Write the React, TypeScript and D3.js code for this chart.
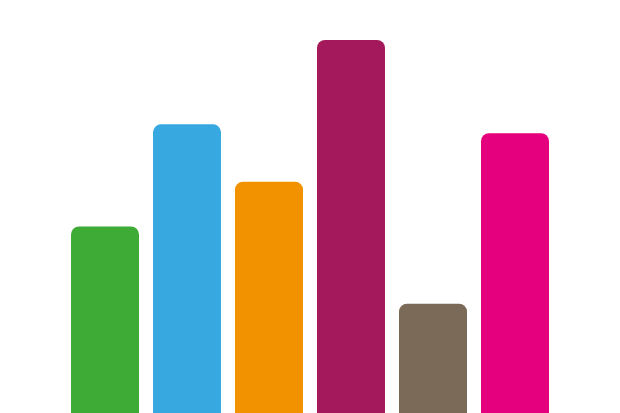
import { useRef, useEffect } from 'react';
import { select, scaleBand, scaleLinear } from 'd3';

const categories = ['A', 'B', 'C', 'D', 'E', 'F'];
const values = [50, 77.4, 62, 100, 29.3, 75];
const colors = ['#3dab35', '#38a9e0', '#f39200', '#a3195b', '#7a6a57', '#e5007d'];

export default function App() {
  const svgRef = useRef<SVGSVGElement>(null);

  useEffect(() => {
    if (!svgRef.current) return;
    document.body.style.margin = '0';
    const width = 620;
    const height = 413;
    const svg = select(svgRef.current);
    svg.selectAll('*').remove();
    svg.attr('width', width).attr('height', height);

    const x = scaleBand<string>().domain(categories).range([64, 556])
      .paddingInner(14 / 82).paddingOuter(7 / 82);
    const y = scaleLinear().domain([0, 100]).range([height, 40]);
    const r = 8;

    // bars with rounded top corners, running off the bottom edge
    const barPath = (i: number) => {
      const x0 = x(categories[i]) ?? 0;
      const w = x.bandwidth();
      const top = y(values[i]);
      const bottom = height + 10;
      return `M${x0},${bottom}V${top + r}A${r},${r} 0 0 1 ${x0 + r},${top}` +
        `H${x0 + w - r}A${r},${r} 0 0 1 ${x0 + w},${top + r}V${bottom}Z`;
    };

    svg.append('rect').attr('width', width).attr('height', height).attr('fill', '#fff');
    svg.selectAll('.bar').data(values).join('path')
      .attr('class', 'bar')
      .attr('d', (_, i) => barPath(i))
      .attr('fill', (_, i) => colors[i]);
  }, []);

  return <svg ref={svgRef} style={{ position: 'absolute', left: 0, top: 0, display: 'block' }} />;
}
